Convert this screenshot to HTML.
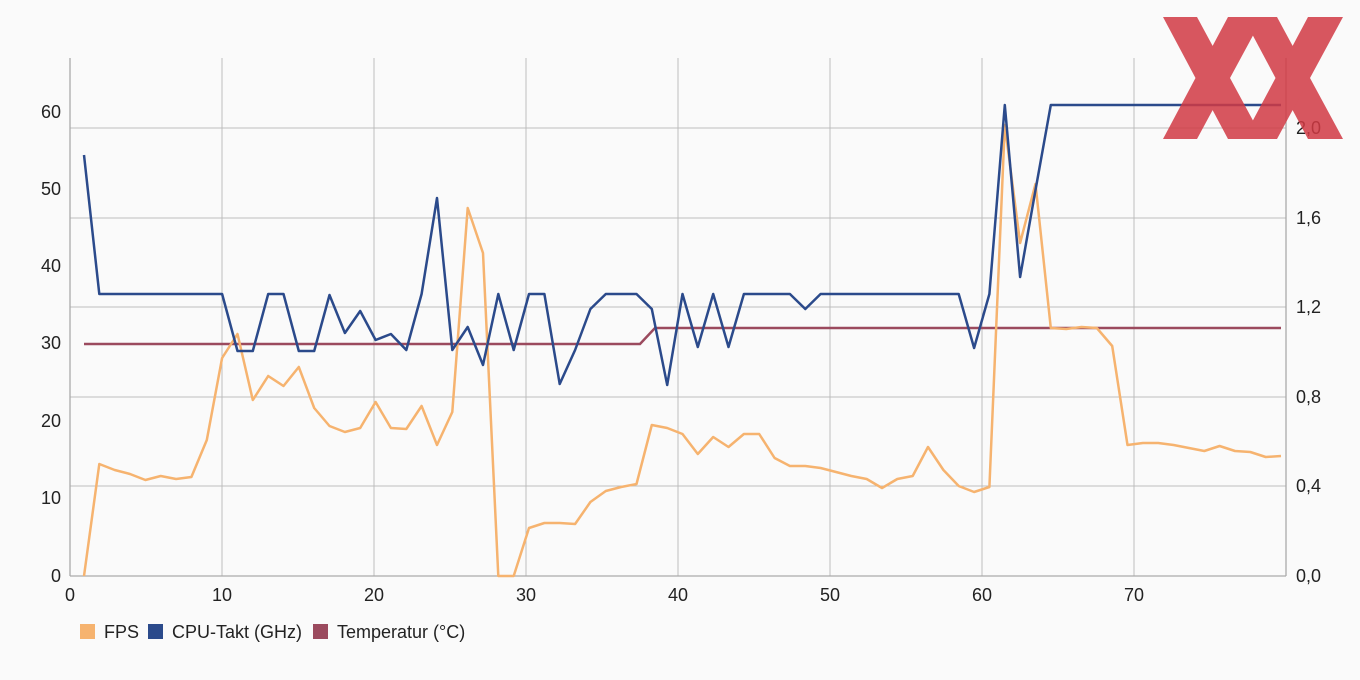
<!DOCTYPE html>
<html><head><meta charset="utf-8"><style>
html,body{margin:0;padding:0;background:#fafafa;}
svg{display:block;font-family:"Liberation Sans",sans-serif;}
</style></head><body>
<svg id="s" width="1360" height="680" viewBox="0 0 1360 680" xmlns="http://www.w3.org/2000/svg">
<rect width="1360" height="680" fill="#fafafa"/>
<g stroke="#bdbdbd" stroke-width="1">
<line x1="222" y1="58" x2="222" y2="576"/><line x1="374" y1="58" x2="374" y2="576"/>
<line x1="526" y1="58" x2="526" y2="576"/><line x1="678" y1="58" x2="678" y2="576"/>
<line x1="830" y1="58" x2="830" y2="576"/><line x1="982" y1="58" x2="982" y2="576"/>
<line x1="1134" y1="58" x2="1134" y2="576"/>
<line x1="70" y1="128" x2="1286" y2="128"/><line x1="70" y1="218" x2="1286" y2="218"/>
<line x1="70" y1="307" x2="1286" y2="307"/><line x1="70" y1="397" x2="1286" y2="397"/>
<line x1="70" y1="486" x2="1286" y2="486"/>
</g>
<g stroke="#aaa" stroke-width="1.3">
<line x1="70" y1="58" x2="70" y2="576"/><line x1="1286" y1="58" x2="1286" y2="576"/>
<line x1="70" y1="576" x2="1286" y2="576"/>
</g>
<g font-size="18" fill="#222" text-anchor="end">
<text x="61" y="118">60</text><text x="61" y="195">50</text><text x="61" y="272">40</text>
<text x="61" y="349">30</text><text x="61" y="427">20</text><text x="61" y="504">10</text>
<text x="61" y="582">0</text>
</g>
<g font-size="18" fill="#222">
<text x="1296" y="134">2,0</text><text x="1296" y="224">1,6</text><text x="1296" y="313">1,2</text>
<text x="1296" y="403">0,8</text><text x="1296" y="492">0,4</text><text x="1296" y="582">0,0</text>
</g>
<g font-size="18" fill="#222" text-anchor="middle">
<text x="70" y="601">0</text><text x="222" y="601">10</text><text x="374" y="601">20</text>
<text x="526" y="601">30</text><text x="678" y="601">40</text><text x="830" y="601">50</text>
<text x="982" y="601">60</text><text x="1134" y="601">70</text>
</g>
<polyline id="temp" fill="none" stroke="#9b4a5e" stroke-width="2.5" points="84,344 640,344 655,328 1281,328"/>
<polyline id="fps" fill="none" stroke="#f6b36f" stroke-width="2.5" stroke-linejoin="round"/>
<polyline id="cpu" fill="none" stroke="#2b4a8b" stroke-width="2.5" stroke-linejoin="round"/>
<g opacity="0.85" fill="#d23a44">
<polygon points="1163,17 1197,17 1263,139 1228,139"/>
<polygon points="1228,17 1263,17 1197,139 1163,139"/>
<polygon points="1243,17 1277,17 1343,139 1308,139"/>
<polygon points="1308,17 1343,17 1277,139 1243,139"/>
</g>
<g font-size="18" fill="#222">
<rect x="80" y="624" width="15" height="15" fill="#f6b36f"/><text x="104" y="638">FPS</text>
<rect x="148" y="624" width="15" height="15" fill="#2b4a8b"/><text x="172" y="638">CPU-Takt (GHz)</text>
<rect x="313" y="624" width="15" height="15" fill="#9b4a5e"/><text x="337" y="638">Temperatur (°C)</text>
</g>
</svg>
<script>
var fps=[576,464,470,474,480,476,479,477,440,358,334,400,376,386,367,408,426,432,428,402,428,429,406,445,412,208,253,576,576,528,523,523,524,502,491,487,484,425,428,434,454,437,447,434,434,458,466,466,468,472,476,479,488,479,476,447,470,486,492,487,125,243,184,328,329,327,328,346,445,443,443,445,448,451,446,451,452,457,456];
var cpu=[155,294,294,294,294,294,294,294,294,294,351,351,294,294,351,351,295,333,311,340,334,350,294,198,350,327,365,294,350,294,294,384,350,309,294,294,294,309,385,294,347,294,347,294,294,294,294,309,294,294,294,294,294,294,294,294,294,294,348,294,105,277,190];
while(cpu.length<79)cpu.push(105);
function pts(a){var n=a.length,s=[];for(var i=0;i<n;i++){s.push((84+i*(1281-84)/78).toFixed(1)+","+a[i]);}return s.join(" ");}
document.getElementById("fps").setAttribute("points",pts(fps));
document.getElementById("cpu").setAttribute("points",pts(cpu));
</script>
</body></html>
